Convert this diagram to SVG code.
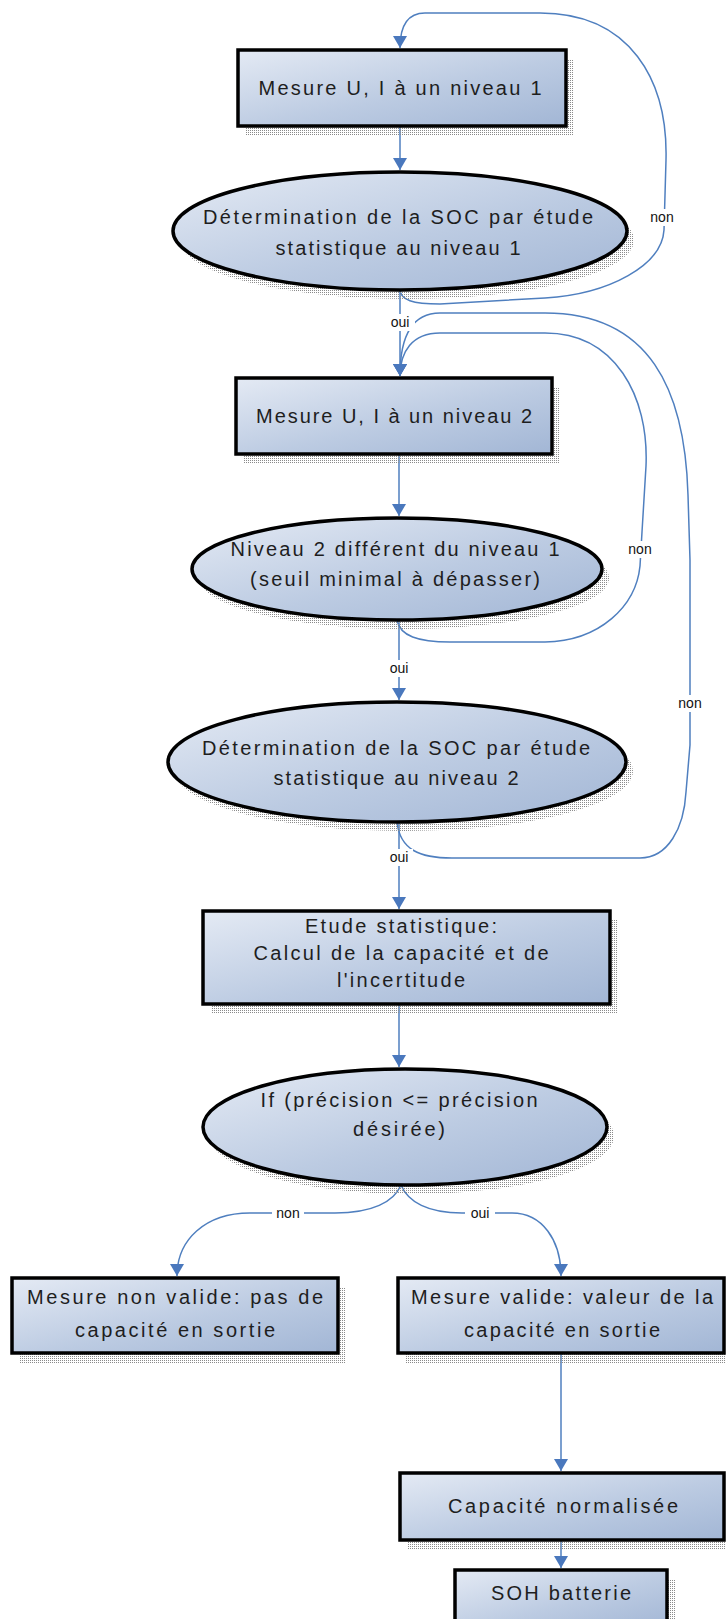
<svg xmlns="http://www.w3.org/2000/svg" width="728" height="1619" viewBox="0 0 728 1619">
<style>
.nd{fill:url(#g);stroke:#000;stroke-width:3.5}
.sh{fill:url(#dots)}
.t{font-family:"Liberation Sans",Arial,sans-serif;font-size:20px;fill:#1e1e1e;text-anchor:middle}
.c{fill:none;stroke:#4f7fbf;stroke-width:1.5}
.l{font-family:"Liberation Sans",Arial,sans-serif;font-size:14px;fill:#111;text-anchor:middle}
.lb{fill:#fff}
</style>
<defs>
<linearGradient id="g" x1="0" y1="0" x2="1" y2="1">
<stop offset="0" stop-color="#e4eaf4"/>
<stop offset="0.55" stop-color="#bccbe2"/>
<stop offset="1" stop-color="#a2b6d5"/>
</linearGradient>
<pattern id="dots" width="2" height="2" patternUnits="userSpaceOnUse">
<rect width="1" height="1" fill="#8a8a8a"/>
</pattern>
<marker id="a" viewBox="0 0 12 14" refX="12" refY="7" markerWidth="12" markerHeight="14" markerUnits="userSpaceOnUse" orient="auto">
<path d="M0,0 L12,7 L0,14 z" fill="#4a78bd"/>
</marker>
</defs>
<rect width="728" height="1619" fill="#fff"/>
<g id="connectors">
<path class="c" marker-end="url(#a)" d="M400 290 C401 300,412 304,440 304 L545 298 C610 294,662 265,664 230 L666 160 C668 80,630 13,540 13 L425 13 C408 13,400 25,400 48"/>
<path class="c" marker-end="url(#a)" d="M400 126 L400 170"/>
<path class="c" marker-end="url(#a)" d="M400 290 L400 376"/>
<path class="c" marker-end="url(#a)" d="M399 454 L399 516"/>
<path class="c" marker-end="url(#a)" d="M397 620 C400 636,418 642,450 642 L545 642 C600 641,636 606,640 566 L642 532 L646 466 C649 396,615 333,545 333 L440 333 C412 333,400 352,400 376"/>
<path class="c" marker-end="url(#a)" d="M399 620 L399 700"/>
<path class="c" marker-end="url(#a)" d="M397 822 C400 850,420 858,452 858 L640 858 C668 858,684 828,686 792 L690 745 L690 560 L688 495 C685 390,650 313,545 313 L440 313 C410 313,400 340,400 376"/>
<path class="c" marker-end="url(#a)" d="M399 822 L399 909"/>
<path class="c" marker-end="url(#a)" d="M399 1004 L399 1067"/>
<path class="c" marker-end="url(#a)" d="M401 1185 C394 1202,372 1213,335 1213 L250 1213 C205 1213,177 1240,177 1276"/>
<path class="c" marker-end="url(#a)" d="M401 1185 C408 1202,428 1213,462 1213 L512 1213 C542 1213,561 1240,561 1276"/>
<path class="c" marker-end="url(#a)" d="M561 1353 L561 1471"/>
<path class="c" marker-end="url(#a)" d="M561 1540 L561 1568"/>
<rect class="lb" x="648" y="209" width="28" height="17"/><text class="l" x="662" y="222">non</text>
<rect class="lb" x="385" y="314" width="30" height="17"/><text class="l" x="400" y="327">oui</text>
<rect class="lb" x="626" y="541" width="28" height="17"/><text class="l" x="640" y="554">non</text>
<rect class="lb" x="385" y="660" width="28" height="17"/><text class="l" x="399" y="673">oui</text>
<rect class="lb" x="676" y="695" width="28" height="17"/><text class="l" x="690" y="708">non</text>
<rect class="lb" x="385" y="849" width="28" height="17"/><text class="l" x="399" y="862">oui</text>
<rect class="lb" x="272" y="1205" width="32" height="17"/><text class="l" x="288" y="1218">non</text>
<rect class="lb" x="465" y="1205" width="30" height="17"/><text class="l" x="480" y="1218">oui</text>
</g>
<g id="n1">
<rect class="sh" x="246" y="59" width="328" height="77"/>
<rect class="nd" x="238" y="50" width="328" height="76"/>
<text class="t" x="400" y="95" textLength="283" lengthAdjust="spacing">Mesure U, I à un niveau 1</text>
</g>
<g id="n2">
<ellipse class="sh" cx="407" cy="240" rx="227" ry="59"/>
<ellipse class="nd" cx="400" cy="231" rx="227" ry="59"/>
<text class="t" x="398" y="224" textLength="390" lengthAdjust="spacing">Détermination de la SOC par étude</text>
<text class="t" x="398" y="255" textLength="245" lengthAdjust="spacing">statistique au niveau 1</text>
</g>
<g id="n3">
<rect class="sh" x="244" y="387" width="316" height="77"/>
<rect class="nd" x="236" y="378" width="316" height="76"/>
<text class="t" x="394" y="423" textLength="276" lengthAdjust="spacing">Mesure U, I à un niveau 2</text>
</g>
<g id="n4">
<ellipse class="sh" cx="404" cy="578" rx="205" ry="51"/>
<ellipse class="nd" cx="397" cy="569" rx="205" ry="51"/>
<text class="t" x="395" y="556" textLength="329" lengthAdjust="spacing">Niveau 2 différent du niveau 1</text>
<text class="t" x="395" y="586" textLength="290" lengthAdjust="spacing">(seuil minimal à dépasser)</text>
</g>
<g id="n5">
<ellipse class="sh" cx="404" cy="771" rx="229" ry="60"/>
<ellipse class="nd" cx="397" cy="762" rx="229" ry="60"/>
<text class="t" x="396" y="755" textLength="388" lengthAdjust="spacing">Détermination de la SOC par étude</text>
<text class="t" x="396" y="785" textLength="245" lengthAdjust="spacing">statistique au niveau 2</text>
</g>
<g id="n6">
<rect class="sh" x="211" y="920" width="407" height="93"/>
<rect class="nd" x="203" y="911" width="407" height="93"/>
<text class="t" x="401" y="933" textLength="192" lengthAdjust="spacing">Etude statistique:</text>
<text class="t" x="401" y="960" textLength="295" lengthAdjust="spacing">Calcul de la capacité et de</text>
<text class="t" x="401" y="987" textLength="128" lengthAdjust="spacing">l'incertitude</text>
</g>
<g id="n7">
<ellipse class="sh" cx="412" cy="1136" rx="202" ry="58"/>
<ellipse class="nd" cx="405" cy="1127" rx="202" ry="58"/>
<text class="t" x="399" y="1107" textLength="277" lengthAdjust="spacing">If (précision &lt;= précision</text>
<text class="t" x="399" y="1136" textLength="92" lengthAdjust="spacing">désirée)</text>
</g>
<g id="n8">
<rect class="sh" x="20" y="1287" width="326" height="76"/>
<rect class="nd" x="12" y="1278" width="326" height="75"/>
<text class="t" x="175" y="1304" textLength="296" lengthAdjust="spacing">Mesure non valide: pas de</text>
<text class="t" x="175" y="1337" textLength="200" lengthAdjust="spacing">capacité en sortie</text>
</g>
<g id="n9">
<rect class="sh" x="406" y="1287" width="320" height="76"/>
<rect class="nd" x="398" y="1278" width="326" height="75"/>
<text class="t" x="562" y="1304" textLength="302" lengthAdjust="spacing">Mesure valide: valeur de la</text>
<text class="t" x="562" y="1337" textLength="196" lengthAdjust="spacing">capacité en sortie</text>
</g>
<g id="n10">
<rect class="sh" x="408" y="1482" width="318" height="67"/>
<rect class="nd" x="400" y="1473" width="324" height="67"/>
<text class="t" x="563" y="1513" textLength="230" lengthAdjust="spacing">Capacité normalisée</text>
</g>
<g id="n11">
<rect class="sh" x="463" y="1579" width="212" height="60"/>
<rect class="nd" x="455" y="1570" width="212" height="60"/>
<text class="t" x="561" y="1600" textLength="140" lengthAdjust="spacing">SOH batterie</text>
</g>
</svg>
